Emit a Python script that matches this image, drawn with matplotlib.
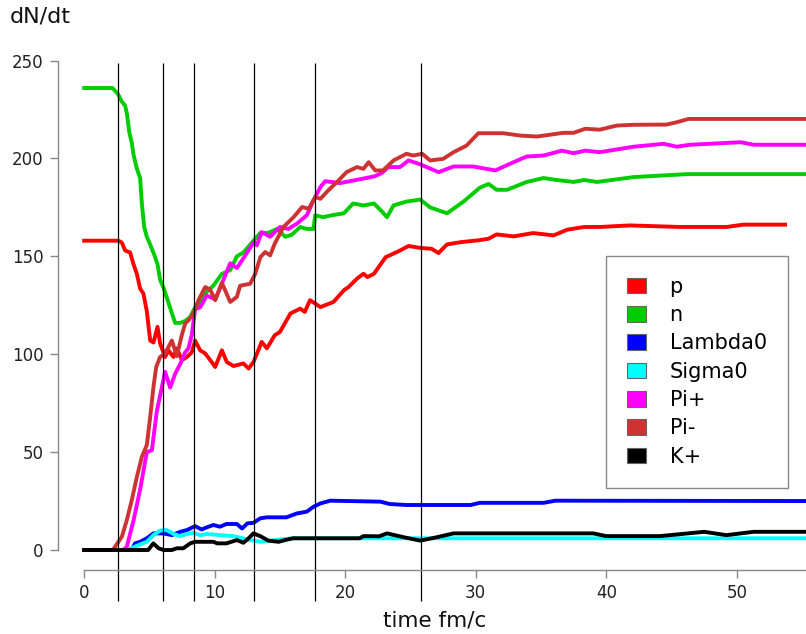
import matplotlib
matplotlib.use("Agg")
import matplotlib.pyplot as plt
from matplotlib.patches import Patch

# (time fm/c, dN/dt)
p_pts = [(0, 158), (2.63, 158), (2.89, 157), (3.14, 153), (3.52, 152), (3.78, 146), (4.04, 141),
         (4.29, 133.5), (4.54, 131), (4.8, 122), (5.06, 107), (5.31, 106), (5.62, 114), (5.82, 105.5),
         (6.2, 98.6), (6.46, 102), (6.84, 98.6), (7.1, 103), (7.49, 97), (7.87, 98.6), (8.25, 101),
         (8.5, 107), (8.89, 102), (9.27, 100.4), (9.66, 97), (10.04, 93.5), (10.55, 102), (10.93, 96),
         (11.44, 94), (12.2, 95.3), (12.6, 92.7), (12.97, 96), (13.6, 106.3), (14.0, 103), (14.6, 109.7),
         (15.0, 111.4), (15.8, 120.8), (16.55, 123.3), (16.9, 121.6), (17.3, 127.6), (17.7, 125.9),
         (18.1, 124.1), (19.1, 126.7), (19.9, 132.7), (20.25, 134.3), (20.9, 138.6), (21.4, 141.1),
         (21.7, 139.4), (22.2, 141.1), (23.1, 149.6), (23.7, 151.4), (24.2, 153), (24.85, 155.3),
         (25.75, 154.3), (26.6, 153.9), (27.15, 151.7), (27.8, 156.1), (28.9, 157.3), (30.2, 158.2),
         (30.98, 159), (31.6, 161.2), (32.9, 160.2), (34.4, 161.9), (35.96, 160.7), (37.0, 163.6),
         (38.3, 165), (39.5, 165), (41.8, 165.8), (45.7, 165), (49.2, 165), (50.5, 166.2), (53.7, 166.2)]

n_pts = [(0, 236), (2.17, 236), (2.58, 233), (2.89, 229), (3.14, 227), (3.27, 223), (3.47, 213),
         (3.65, 208), (3.78, 202), (4.03, 195), (4.29, 190), (4.42, 177), (4.6, 165), (4.8, 160),
         (5.06, 156), (5.36, 151), (5.62, 146), (5.82, 138), (6.08, 134), (6.38, 128), (6.72, 121),
         (6.97, 116), (7.36, 116), (7.74, 117), (8.12, 119), (8.5, 124), (8.89, 127), (9.4, 132),
         (9.9, 135), (10.55, 141), (11.19, 143), (11.7, 150), (12.2, 152), (12.85, 157), (13.5, 162),
         (14.1, 162), (14.77, 164), (15.4, 160), (15.9, 161), (16.55, 165), (17.06, 164), (17.57, 164),
         (17.7, 171), (18.3, 170), (18.98, 171), (19.9, 172), (20.6, 177), (21.4, 176), (22.2, 177),
         (22.8, 173), (23.2, 170), (23.7, 176), (24.7, 178), (25.75, 179), (26.5, 175), (27.8, 172),
         (29.07, 178), (30.3, 185), (30.98, 187), (31.6, 184), (32.4, 184), (33.9, 188), (35.2, 190),
         (36.2, 189), (37.5, 188), (38.3, 189), (39.3, 188), (42.1, 190.5), (46.2, 192), (58, 192)]

lambda0_pts = [(0, 0), (3.6, 0), (3.9, 3.4), (4.29, 4.2), (4.8, 6), (5.31, 8.5), (6.08, 8.5), (6.72, 7.6),
               (7.36, 9.3), (7.87, 10.2), (8.5, 12.2), (9.0, 10.5), (9.4, 11.6), (9.9, 12.8), (10.4, 11.9),
               (10.9, 13.3), (11.7, 13.3), (12.1, 11), (12.5, 13.6), (12.97, 13.9), (13.5, 16.2),
               (14.0, 16.7), (15.5, 16.7), (16.3, 18.7), (17.06, 19.6), (17.57, 22.1), (18.1, 23.8),
               (18.85, 25.2), (22.7, 24.7), (23.4, 23.5), (24.7, 23), (29.6, 23), (30.3, 24.1),
               (35.2, 24.1), (36.1, 25.2), (58, 25)]

sigma0_pts = [(0, 0), (3.27, 0), (4.16, 2.5), (4.8, 4.2), (5.31, 7.6), (5.82, 9.9), (6.34, 10.2),
              (6.84, 8.2), (7.36, 7.1), (7.87, 8.2), (8.38, 8.8), (8.89, 7.6), (9.4, 8.2), (10.4, 7.6),
              (11.44, 7.1), (12.5, 5.4), (13.5, 4.2), (14.25, 4.8), (15.0, 5.4), (16.0, 6), (58, 6)]

pip_pts = [(0, 0), (3.0, 0), (3.27, 1.7), (3.78, 15), (4.29, 31), (4.8, 50), (5.19, 51), (5.57, 71),
           (5.95, 83), (6.2, 91), (6.59, 83), (6.97, 90), (7.36, 95), (7.74, 101), (7.99, 103),
           (8.25, 110), (8.5, 123), (8.89, 124), (9.4, 130), (10.04, 128), (10.55, 136), (11.19, 146.5),
           (11.7, 144), (12.2, 149), (13.0, 157.3), (13.23, 155.6), (13.6, 162.4), (14.25, 160),
           (15.0, 165), (15.65, 164), (16.3, 166.7), (17.06, 171), (17.57, 178.6), (18.1, 185.4),
           (18.47, 188.4), (19.6, 187.4), (20.9, 189.1), (22.2, 190.8), (22.8, 192.5), (23.3, 195.6),
           (24.2, 195.6), (24.85, 199), (25.75, 197), (27.15, 193), (28.3, 195.9), (29.8, 195.9),
           (31.5, 193.9), (32.9, 198.1), (33.9, 201), (35.2, 201.5), (36.6, 204), (37.5, 202.7),
           (38.4, 204), (39.5, 203.2), (42.1, 206), (44.4, 207.5), (45.4, 206), (46.4, 207),
           (50.3, 208.3), (51.3, 207), (58, 207)]

pim_pts = [(0, 0), (2.2, 0), (2.37, 1.7), (2.89, 6.8), (3.27, 15.3), (3.65, 25.5), (4.04, 37.4),
           (4.42, 47.6), (4.8, 53.6), (5.06, 68), (5.31, 83.3), (5.52, 93.5), (5.82, 98.6), (6.2, 100.4),
           (6.46, 103.7), (6.72, 107), (7.1, 99), (7.49, 110), (7.74, 115.7), (7.99, 117.3), (8.38, 121),
           (8.76, 127.6), (9.27, 134.3), (9.66, 133), (10.04, 127.6), (10.55, 136.5), (11.19, 126.7),
           (11.7, 129.3), (11.95, 135), (12.72, 136), (13.1, 141), (13.5, 149.6), (13.87, 152.2),
           (14.25, 150.5), (14.6, 156.5), (15.27, 165), (16.04, 170), (16.7, 175.2), (17.2, 174.3),
           (17.7, 180.3), (18.1, 179.4), (18.7, 183.7), (19.36, 187.9), (20.1, 193), (20.9, 195.6),
           (21.4, 194.7), (21.8, 198.1), (22.3, 193.9), (22.9, 193.9), (23.7, 199), (24.7, 202.4),
           (25.2, 201.5), (25.9, 202.4), (26.5, 199), (27.5, 199.8), (28.3, 203.2), (29.3, 206.6),
           (30.2, 212.9), (32.1, 212.9), (33.4, 211.7), (34.7, 211.2), (36.7, 213.1), (37.5, 213.1),
           (38.4, 215.2), (39.5, 214.7), (40.8, 216.8), (42.1, 217.2), (44.6, 217.3), (45.4, 218.5),
           (46.3, 220.2), (58, 220.2)]

kp_pts = [(0, 0), (4.9, 0), (5.3, 3.4), (5.7, 0.9), (6.08, 0), (6.72, 0), (7.1, 0.9), (7.6, 0.9),
          (8.12, 3.4), (8.5, 4.2), (9.9, 4.2), (10.2, 3.4), (10.9, 3.4), (11.7, 5.1), (12.2, 3.7),
          (12.6, 6), (12.97, 8.5), (13.5, 7.1), (14.1, 4.8), (14.9, 4.2), (15.4, 5.1), (16.0, 6),
          (21.1, 6), (21.4, 7.1), (22.6, 7), (23.2, 8.5), (24.5, 6.5), (25.75, 4.8), (27.0, 6.5),
          (28.3, 8.5), (39.0, 8.5), (40.0, 7.1), (44.1, 7.1), (47.5, 9.3), (49.2, 7.6), (51.3, 9.3),
          (58, 9.3)]

names = ["p", "n", "Lambda0", "Sigma0", "Pi+", "Pi-", "K+"]
colors = ["#ff0000", "#00cd00", "#0000ff", "#00ffff", "#ff00ff", "#cd3333", "#000000"]
series = [p_pts, n_pts, lambda0_pts, sigma0_pts, pip_pts, pim_pts, kp_pts]

# times where the stages are marked
marks = [2.58, 6.04, 8.38, 12.98, 17.66, 25.8]

fig = plt.figure(figsize=(8.06, 6.34), dpi=100)
ax = fig.add_axes([58.3 / 806, 1 - 569.6 / 634, 1 - 58.3 / 806, (569.6 - 41) / 634])

for pts, c in zip(series, colors):
    t = [a for a, b in pts]
    v = [b for a, b in pts]
    ax.plot(t, v, color=c, lw=2.8, solid_joinstyle="round")

ax.vlines(marks, -26, 248.7, colors="black", lw=0.9, clip_on=False)

ax.set_yticks([0, 50, 100, 150, 200, 250])
ax.set_xticks([0, 10, 20, 30, 40, 50])
ax.set_xlim(-1.98, 55.3)
ax.set_ylim(-10, 260)
for s in ["top", "right"]:
    ax.spines[s].set_visible(False)
for s in ["left", "bottom"]:
    ax.spines[s].set_color("#888888")
    ax.spines[s].set_linewidth(1.0)
ax.spines["left"].set_bounds(0, 250)
ax.spines["bottom"].set_bounds(0, 60)
ax.tick_params(axis="both", direction="out", length=6, width=1.0, color="#888888",
               labelsize=12, labelcolor="#222222", pad=4.5)

fig.text(10 / 806, 1 - 17 / 634, "dN/dt", fontsize=16, va="center", ha="left", color="#111111")
fig.text(435 / 806, 1 - 621 / 634, "time fm/c", fontsize=15.5, va="center", ha="center", color="#111111")

handles = [Patch(facecolor=c, edgecolor="#666666", lw=0.8) for c in colors]
leg = ax.legend(handles, names, loc="upper left", bbox_to_anchor=(606 / 806, 1 - 256 / 634),
                bbox_transform=fig.transFigure, fontsize=15, handlelength=0.9, handleheight=0.77,
                handletextpad=1.15, labelspacing=0.4, borderpad=1.0, borderaxespad=0,
                fancybox=False, framealpha=1, edgecolor="#888888")
leg.get_frame().set_linewidth(1.0)

fig.savefig("out.png", dpi=100)
